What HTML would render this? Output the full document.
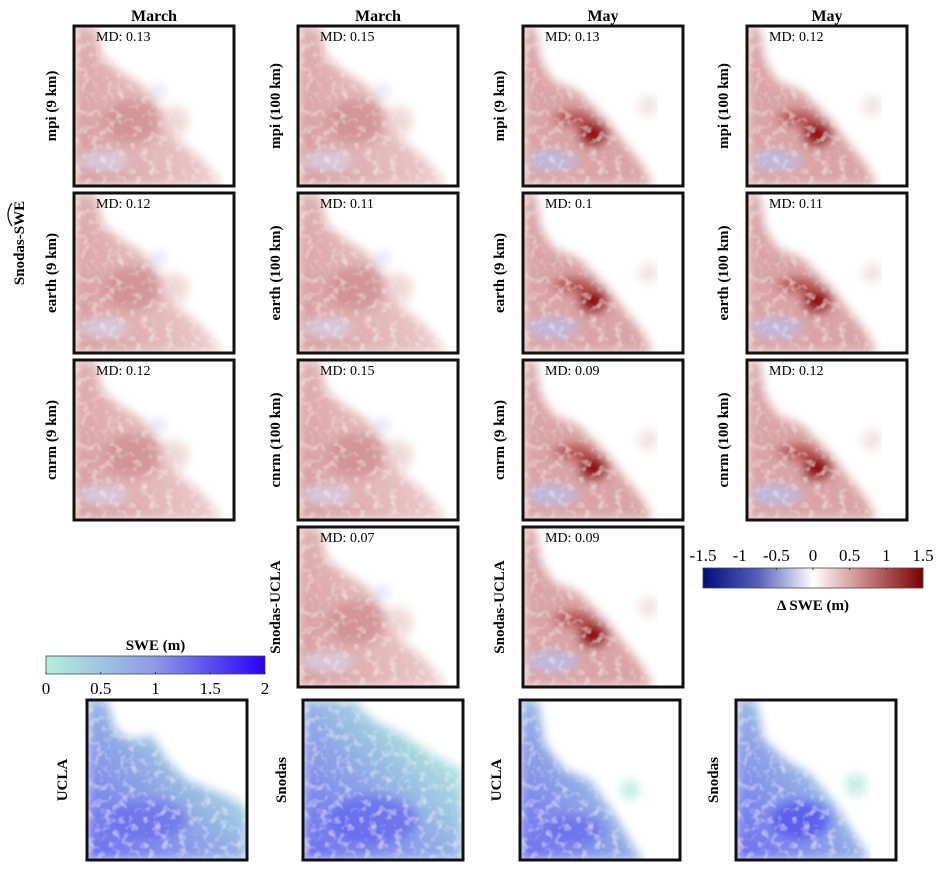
<!DOCTYPE html>
<html><head><meta charset="utf-8"><style>
body{margin:0;background:#fff}
text{font-family:"Liberation Serif","Times New Roman",Times,"DejaVu Serif",serif}
</style></head><body>
<svg id="fig" width="943" height="872" viewBox="0 0 943 872" xmlns="http://www.w3.org/2000/svg">
<defs>
<filter id="blur" x="-10%" y="-10%" width="120%" height="120%"><feGaussianBlur stdDeviation="5"/></filter>
<filter id="tex" x="0" y="0" width="100%" height="100%">
 <feTurbulence type="fractalNoise" baseFrequency="0.12" numOctaves="2" seed="3" result="n"/>
 <feColorMatrix in="n" type="matrix" values="0 0 0 0 1  0 0 0 0 1  0 0 0 0 1  0 0 0 1.2 -0.6" result="w"/>
 <feComposite in="w" in2="SourceGraphic" operator="in" result="wm"/>
 <feMerge><feMergeNode in="SourceGraphic"/><feMergeNode in="wm"/></feMerge>
</filter>
<linearGradient id="dcb" x1="0" x2="1" y1="0" y2="0">
 <stop offset="0" stop-color="#000d80"/><stop offset="0.25" stop-color="#5560b8"/><stop offset="0.5" stop-color="#ffffff"/><stop offset="0.75" stop-color="#c47a7a"/><stop offset="1" stop-color="#7a0000"/>
</linearGradient>
<linearGradient id="scb" x1="0" x2="1" y1="0" y2="0">
 <stop offset="0" stop-color="#b4f0dc"/><stop offset="0.5" stop-color="#8c9ae6"/><stop offset="1" stop-color="#2a00f5"/>
</linearGradient>
<linearGradient id="bluegrad" x1="0" y1="1" x2="0.8" y2="0.2">
 <stop offset="0" stop-color="#6a6af0"/><stop offset="0.55" stop-color="#8fa6e6"/><stop offset="1" stop-color="#b0ecdc"/>
</linearGradient>
<linearGradient id="redfade" x1="0" y1="0.6" x2="1" y2="0.2">
 <stop offset="0" stop-color="#d9a0a0"/><stop offset="0.6" stop-color="#e8c4c4"/><stop offset="1" stop-color="#fbf2f2"/>
</linearGradient>
<g id="red-mar">
 <g filter="url(#tex)"><g filter="url(#blur)">
 <polygon points="0,0 22,0 28,30 45,45 70,60 85,80 100,110 130,135 150,160 0,160" fill="url(#redfade)"/>
 <ellipse cx="60" cy="95" rx="30" ry="22" fill="#c98080" opacity="0.6"/>
 <ellipse cx="100" cy="95" rx="15" ry="15" fill="#ecd0d0" opacity="0.8"/>
 <ellipse cx="30" cy="135" rx="25" ry="10" fill="#d6d8ef" opacity="0.7"/>
 <ellipse cx="85" cy="65" rx="7" ry="7" fill="#dfe2f4"/>
 </g></g>
</g>
<g id="red-may">
 <g filter="url(#tex)"><g filter="url(#blur)">
 <polygon points="0,0 12,0 18,35 30,55 55,65 80,90 100,115 120,140 130,160 0,160" fill="#d49494" opacity="0.85"/>
 <ellipse cx="70" cy="108" rx="15" ry="13" fill="#9a0a0a"/>
 <ellipse cx="50" cy="92" rx="20" ry="8" fill="#b85050"/>
 <ellipse cx="30" cy="135" rx="25" ry="10" fill="#b8bde6" opacity="0.85"/>
 <ellipse cx="125" cy="80" rx="10" ry="10" fill="#f3e0e0"/>
 </g></g>
</g>
<g id="blue-ucla-mar">
 <g filter="url(#tex)"><g filter="url(#blur)">
 <polygon points="0,0 20,0 28,30 45,40 65,35 80,60 100,80 125,90 150,100 160,110 160,160 0,160" fill="url(#bluegrad)"/>
 <ellipse cx="60" cy="120" rx="40" ry="20" fill="#6464ec" opacity="0.6"/>
 </g></g>
</g>
<g id="blue-snodas-mar">
 <g filter="url(#tex)"><g filter="url(#blur)">
 <polygon points="0,0 50,0 70,20 100,35 130,55 160,70 160,160 0,160" fill="url(#bluegrad)"/>
 <ellipse cx="70" cy="120" rx="45" ry="25" fill="#5a5af0" opacity="0.6"/>
 </g></g>
</g>
<g id="blue-ucla-may">
 <g filter="url(#tex)"><g filter="url(#blur)">
 <polygon points="0,0 18,0 25,45 45,70 70,80 95,115 115,150 125,160 0,160" fill="url(#bluegrad)"/>
 <ellipse cx="55" cy="130" rx="30" ry="15" fill="#6060ec" opacity="0.6"/>
 <ellipse cx="110" cy="90" rx="10" ry="10" fill="#c0f0e4"/>
 </g></g>
</g>
<g id="blue-snodas-may">
 <g filter="url(#tex)"><g filter="url(#blur)">
 <polygon points="0,0 20,0 28,40 50,60 75,75 100,105 125,145 135,160 0,160" fill="url(#bluegrad)"/>
 <ellipse cx="65" cy="120" rx="30" ry="20" fill="#4848f0" opacity="0.7"/>
 <ellipse cx="120" cy="85" rx="10" ry="12" fill="#c0ece4"/>
 </g></g>
</g>
</defs>
<g id="content"></g>
</svg>
<script>
const colTitles = ['March','March','May','May'];
const rowModels = ['mpi','earth','cnrm'];
const mdValues = [[0.13,0.15,0.13,0.12],[0.12,0.11,0.1,0.11],[0.12,0.15,0.09,0.12]];
const mdRow4 = [0.07,0.09];
const deltaTicks = [-1.5,-1,-0.5,0,0.5,1,1.5];
const sweTicks = [0,0.5,1,1.5,2];

const NS='http://www.w3.org/2000/svg';
const root=document.getElementById('content');
function mk(tag,attrs,parent,txt){const e=document.createElementNS(NS,tag);for(const k in attrs)e.setAttribute(k,attrs[k]);if(tag==='text')e.style.fontFamily='"Liberation Serif","Times New Roman",Times,"DejaVu Serif",serif';if(txt!==undefined)e.textContent=txt;(parent||root).appendChild(e);return e;}
const colX=[74,298,523,747], rowY=[26,193,360,527], S=160;

colTitles.forEach((t,i)=>{
  const e=mk('text',{x:colX[i]+80,y:21,'text-anchor':'middle','font-size':16,'font-weight':'bold'},root,t);
  
  
});

function panel(x,y,ref,md,label,name,labelX){
  const g=mk('g',{});
  
  
  mk('rect',{x:x,y:y,width:S,height:S,fill:'#fff'},g);
  mk('use',{href:'#'+ref,transform:`translate(${x},${y})`},g);
  mk('rect',{x:x,y:y,width:S,height:S,fill:'none',stroke:'#111','stroke-width':3},g);
  if(md!==null){
    const t=mk('text',{x:x+22,y:y+15,'font-size':14},g,'MD: '+md);
    
    
  }
  const cy=y+S/2;
  const l=mk('text',{x:labelX,y:cy,'text-anchor':'middle','font-size':15,'font-weight':'bold',transform:`rotate(-90 ${labelX} ${cy})`,'dominant-baseline':'central'},g,label);
  
  
}
const labelXs=[52,276,500,724];
for(let r=0;r<3;r++)for(let c=0;c<4;c++){
  const res=c%2===0?'9 km':'100 km';
  panel(colX[c],rowY[r],c<2?'red-mar':'red-may',mdValues[r][c],`${rowModels[r]} (${res})`,`panel-${rowModels[r]}-${c+1}`,labelXs[c]);
}
panel(colX[1],rowY[3],'red-mar',mdRow4[0],'Snodas-UCLA','panel-snodas-ucla-march',276);
panel(colX[2],rowY[3],'red-may',mdRow4[1],'Snodas-UCLA','panel-snodas-ucla-may',500);

const bx=[87,303,520,736], by=700;
const bref=['blue-ucla-mar','blue-snodas-mar','blue-ucla-may','blue-snodas-may'];
const blab=['UCLA','Snodas','UCLA','Snodas'];
const blx=[63,282,497,714];
for(let i=0;i<4;i++) panel(bx[i],by,bref[i],null,blab[i],'swe-map-'+(i+1),blx[i]);

const ol=mk('text',{x:20,y:243,'text-anchor':'middle','font-size':15,'font-weight':'bold',transform:'rotate(-90 20 243)','dominant-baseline':'central'},root,'Snodas-SWE');


mk('path',{d:'M 12 226 Q 4 215 12 203',stroke:'#111',fill:'none','stroke-width':1.3});

const dcb=mk('g',{});


const dx0=703,dw=220,dy=568,dh=20;
mk('rect',{x:dx0,y:dy,width:dw,height:dh,fill:'url(#dcb)',stroke:'#444','stroke-width':0.8},dcb);
deltaTicks.forEach(v=>{
  const x=dx0+(v+1.5)/3*dw;
  mk('line',{x1:x,x2:x,y1:dy,y2:dy+2,stroke:'#333'},dcb);
  const t=mk('text',{x:x,y:dy-7,'text-anchor':'middle','font-size':17},dcb,String(v));
  
  
});
const dt=mk('text',{x:dx0+dw/2,y:dy+42,'text-anchor':'middle','font-size':15,'font-weight':'bold'},dcb,'Δ SWE (m)');



const scb=mk('g',{});


const sx0=46,sw=219,sy=656,sh=18;
mk('rect',{x:sx0,y:sy,width:sw,height:sh,fill:'url(#scb)',stroke:'#444','stroke-width':0.8},scb);
sweTicks.forEach(v=>{
  const x=sx0+v/2*sw;
  mk('line',{x1:x,x2:x,y1:sy+sh,y2:sy+sh-2,stroke:'#333'},scb);
  const t=mk('text',{x:x,y:sy+sh+20,'text-anchor':'middle','font-size':17},scb,String(v));
  
  
});
const st=mk('text',{x:sx0+sw/2,y:sy-6,'text-anchor':'middle','font-size':15,'font-weight':'bold'},scb,'SWE (m)');


</script>
</body></html>
